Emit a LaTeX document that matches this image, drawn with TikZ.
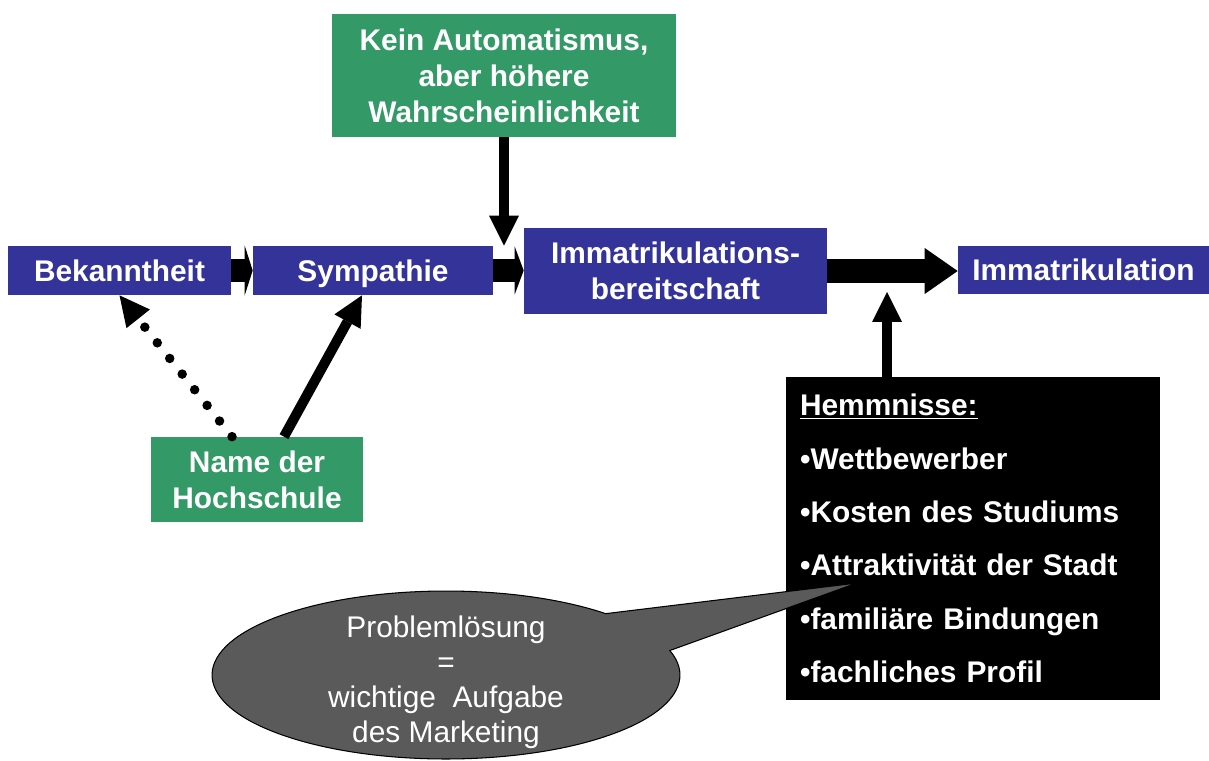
\documentclass[tikz,border=0pt]{standalone}
\usepackage{fontspec}
\setmainfont{Liberation Sans}
\usepackage{tikz}
\usetikzlibrary{arrows.meta,shapes.callouts,calc}
\definecolor{StageBlue}{HTML}{333399}
\definecolor{FactorGreen}{HTML}{339966}
\definecolor{BubbleGray}{HTML}{5A5A5A}
\tikzset{
  blockarrow/.style={line width=0.48cm, draw=black},
  thinarrow/.style={-{Triangle[length=0.6cm,width=0.6cm,line width=0pt]}, line width=0.2cm, draw=black},
  dotarrow/.style={thinarrow, line width=0.19cm, line cap=round, dash pattern=on 0pt off 0.4cm}
}

\begin{document}
\begin{tikzpicture}[x=0.02cm, y=-0.02cm,
  stage/.style={fill=StageBlue, text=white, align=center, inner sep=0pt, minimum height=0.98cm,
    font=\fontsize{17}{20.5}\selectfont\bfseries},
  oneline/.style={text height=12.2pt, text depth=0pt},
  factor/.style={fill=FactorGreen, text=white, align=center, inner sep=0pt,
    font=\fontsize{17}{20.5}\selectfont\bfseries}
]
\useasboundingbox (0,0) rectangle (1209,760);

\node[stage, oneline, minimum width=4.46cm] (bekannt) at (119.5,270.5) {Bekanntheit};
\node[stage, oneline, minimum width=4.8cm] (sympathie) at (373,270.5) {Sympathie};
\node[stage, minimum width=6.06cm, minimum height=1.72cm] (bereit) at (675.5,271) {Immatrikulations-\\bereitschaft};
\node[stage, oneline, minimum width=5.02cm, minimum height=0.96cm] (immat) at (1083.5,270) {Immatrikulation};
\node[factor, minimum width=6.88cm, minimum height=2.46cm] (kein) at (504,75.5) {Kein Automatismus,\\aber höhere\\Wahrscheinlichkeit};
\node[factor, minimum width=4.24cm, minimum height=1.7cm] (hochschule) at (257,479.5) {Name der\\Hochschule};
\node[fill=black, text=white, align=left, text width=6.92cm, inner xsep=0.28cm, inner ysep=0pt,
  minimum height=6.46cm, font=\fontsize{17}{30.4}\selectfont\bfseries] (hemm) at (973,538.5)
  {\underline{Hemmnisse:}\\•Wettbewerber\\•Kosten des Studiums\\•Attraktivität der Stadt\\•familiäre Bindungen\\•fachliches Profil};

\coordinate (bubbletip) at (857,583);
\node[ellipse callout, fill=BubbleGray, draw=black, line width=0.6pt, text=white, align=center,
  minimum width=9.36cm, minimum height=3.36cm, inner xsep=0pt, inner ysep=-0.4cm,
  callout absolute pointer={(bubbletip)}, callout pointer arc=30,
  font=\fontsize{17}{19.9}\selectfont] (bubble) at (446,675)
  {\rule{0pt}{20.5pt}Problemlösung\\=\\wichtige~ Aufgabe\\des Marketing};

\draw[blockarrow, -{Triangle[length=0.16cm,width=1.0cm,line width=0pt]}] (bekannt.east) -- (sympathie.west);
\draw[blockarrow, -{Triangle[length=0.18cm,width=0.96cm,line width=0pt]}] (sympathie.east) -- (sympathie.east -| bereit.west);
\draw[blockarrow, -{Triangle[length=0.66cm,width=0.92cm,line width=0pt]}] (bereit.east) -- (bereit.east -| immat.west);
\draw[thinarrow] (kein.south) -- (kein.south |- sympathie.north);
\coordinate (hemmtip) at (887,292);
\draw[thinarrow] (hemmtip |- hemm.north) -- (hemmtip);
\draw[thinarrow] ([xshift=0.54cm]hochschule.north) -- ([xshift=-0.22cm]sympathie.south);
\draw[dotarrow] ([xshift=-0.5cm]hochschule.north) -- (bekannt.south);
\end{tikzpicture}
\end{document}
